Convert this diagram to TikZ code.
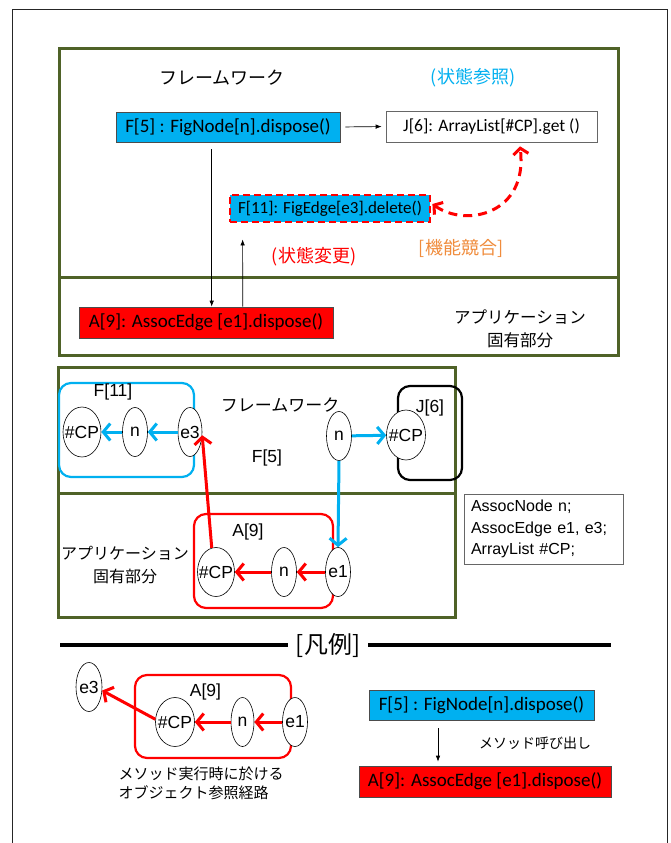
\documentclass[tikz,border=0pt]{standalone}
\usepackage{fontspec}
\setmainfont{Carlito}
\newfontfamily\cjkf{Noto Sans CJK JP}
\newfontfamily\arialf{Liberation Sans}
\usetikzlibrary{arrows.meta,shapes.geometric}
\definecolor{fwgreen}{RGB}{79,98,40}
\definecolor{skyc}{RGB}{0,176,240}
\definecolor{orangec}{RGB}{240,140,60}
\newcommand\myfs[2][]{\fontsize{#2}{#2}\selectfont}
\tikzset{
  greenframe/.style={draw=fwgreen, line width=3pt},
  boxc/.style={draw=black!70, line width=0.6pt, fill=skyc, inner sep=0pt, font=\myfs{19}},
  boxr/.style={draw=black!70, line width=0.6pt, fill=red, inner sep=0pt, font=\myfs{19}},
  boxw/.style={draw=black!60, line width=0.6pt, fill=white, inner sep=0pt, font=\myfs{17.5}},
  jp/.style={font=\cjkf\myfs{#1}, inner sep=0pt},
  lab/.style={font=\arialf\myfs{17.5}, inner sep=0pt},
  ellw/.style={draw=black, line width=0.6pt, fill=white, ellipse, inner xsep=-5pt, inner ysep=0pt,
     minimum width=38pt, minimum height=50pt, font=\arialf\myfs{17.5}},
  ells/.style={draw=black, line width=0.6pt, fill=white, ellipse, inner xsep=-5pt, inner ysep=0pt,
     minimum width=25pt, minimum height=49pt, font=\arialf\myfs{17.5}},
  grp/.style={line width=2.2pt, rounded corners=12pt, inner sep=0pt},
  tarrow/.style={draw=black, line width=0.7pt, -{Latex[length=6pt,width=4.5pt]}},
  carrow/.style={draw=skyc, line width=3pt, -{Straight Barb[length=7pt,width=17pt]}},
  rarrow/.style={draw=red, line width=3pt, -{Straight Barb[length=7pt,width=17pt]}},
}
\begin{document}
\begin{tikzpicture}[x=1pt,y=-1pt]
\useasboundingbox (0,0) rectangle (670,843);
\fill[white] (0,0) rectangle (670,843);
\draw[black!85, line width=0.9pt] (12,843) -- (12,9) -- (667,9) -- (667,843);

% ---------- top section ----------
\draw[greenframe] (59,49) rectangle (618,355);
\draw[greenframe] (59,277) -- (618,277);

\node[jp=18] (fwA) at (222,78) {フレームワーク};
\node[jp=18, text=skyc] (refA) at (473,78) {(状態参照)};
\node[boxc, minimum width=224pt, minimum height=30pt] (f5) at (228,127) {F[5] : FigNode[n].dispose()};
\node[boxw, minimum width=211pt, minimum height=31pt] (j6) at (491.5,126.5) {J[6]: ArrayList[\#CP].get ()};
\node[boxc, draw=red, dashed, dash pattern=on 7pt off 4pt, line width=2.8pt, minimum width=200pt, minimum height=27pt, font=\myfs{17}] (f11) at (330,208.5) {F[11]: FigEdge[e3].delete()};
\node[boxr, minimum width=254pt, minimum height=31pt] (a9) at (206,322.5) {A[9]: AssocEdge [e1].dispose()};
\node[jp=18, text=orangec] (conf) at (461,248) {[機能競合]};
\node[jp=18, text=red] (chg) at (314,257) {(状態変更)};
\node[font=\cjkf\fontsize{16.5}{23}\selectfont, align=center, inner sep=0pt] (appA) at (520,329) {アプリケーション\\固有部分};

\draw[tarrow, shorten <=5pt, shorten >=4pt] (f5.east) -- (j6.west);
\draw[tarrow, shorten <=7pt] ([xshift=96pt]f5.south west) -- ([xshift=133pt]a9.north west);
\draw[tarrow, shorten >=16pt] ([xshift=164pt]a9.north west) -- ([xshift=14pt]f11.south west);
\draw[red, line width=3pt, dash pattern=on 9pt off 6pt,
  {Straight Barb[length=6pt,width=15pt]}-{Straight Barb[length=6pt,width=15pt]}]
  ([xshift=1pt,yshift=4.5pt]f11.east) .. controls (466,228) and (528,214) .. ([xshift=28.5pt,yshift=-4pt]j6.south);

% ---------- middle section ----------
\draw[greenframe] (58,367) rectangle (455,617);
\draw[greenframe] (58,493) -- (455,493);

\node[grp, draw=skyc, minimum width=135pt, minimum height=94pt] (g11) at (126.5,430) {};
\node[lab] (l11) at (113,392) {F[11]};
\node[ellw] (cp11) at (82,432) {\#CP};
\node[ells] (n11) at (135,432) {n};
\node[ells, minimum width=24pt] (e311) at (190,432) {e3};
\draw[carrow] (n11) -- (cp11);
\draw[carrow] (e311) -- (n11);

\node[jp=17] (fwB) at (280,405) {フレームワーク};
\node[lab] (lf5) at (267,458) {F[5]};

\node[grp, draw=black, minimum width=64pt, minimum height=94pt] (gj6) at (430,433) {};
\node[lab] (lj6) at (430,408) {J[6]};
\node[ells] (n5) at (339,436) {n};
\node[ellw, minimum width=39pt] (cpj) at (406,435) {\#CP};
\draw[carrow] (n5) -- (cpj);

\node[grp, draw=red, minimum width=139pt, minimum height=94pt] (ga9) at (263.5,561) {};
\node[lab] (la9t) at (248,532) {A[9]};
\node[ellw, minimum width=37pt, minimum height=49pt] (cpa) at (216,572) {\#CP};
\node[ells] (na) at (284,572) {n};
\node[ells] (e1a) at (338,572) {e1};
\draw[carrow] (n5.south) -- (e1a.north);
\draw[rarrow] (e1a) -- (na);
\draw[rarrow] (na) -- (cpa);
\draw[rarrow] (cpa.100) -- (e311.-15);

\node[font=\cjkf\fontsize{16}{23}\selectfont, align=center, inner sep=0pt] (appB) at (125,565) {アプリケーション\\固有部分};

\node[draw=black!60, line width=0.6pt, minimum width=159pt, minimum height=70pt, text width=145pt,
  inner xsep=7pt, align=left, font=\arialf\fontsize{16}{21.5}\selectfont] (decl) at (543.5,529)
  {AssocNode n;\\AssocEdge e1, e3;\\ArrayList \#CP;};

% ---------- legend ----------
\coordinate (ll) at (60,645);
\coordinate (lr) at (611,645);
\node[font=\cjkf\myfs{24}, inner xsep=8pt, inner ysep=0pt] (leg) at (328,645) {[凡例]};
\draw[line width=4pt] (ll) -- (leg.west);
\draw[line width=4pt] (leg.east) -- (lr);

\node[grp, draw=red, minimum width=156pt, minimum height=83pt] (gl) at (213,716.5) {};
\node[lab] (lla9) at (205.5,692) {A[9]};
\node[ells, minimum width=26pt] (e3l) at (89,687) {e3};
\node[ellw, minimum width=39pt, minimum height=49pt] (cpl) at (175,722) {\#CP};
\node[ells, minimum width=23pt] (nl) at (242.5,722) {n};
\node[ells] (e1l) at (295,722) {e1};
\draw[rarrow] (e1l) -- (nl);
\draw[rarrow] (nl) -- (cpl);
\draw[rarrow] (cpl.172) -- (e3l.-15);
\node[anchor=west, align=left, inner sep=0pt, font=\cjkf\fontsize{15}{19}\selectfont] (ltxt) at (118.5,783.5)
  {メソッド実行時に於ける\\オブジェクト参照経路};

\node[boxc, minimum width=225pt, minimum height=30pt] (lf5b) at (481.5,705) {F[5] : FigNode[n].dispose()};
\node[boxr, minimum width=252pt, minimum height=31pt] (la9b) at (485,781.5) {A[9]: AssocEdge [e1].dispose()};
\draw[tarrow, shorten <=8pt, shorten >=4pt] ([xshift=-43.5pt]lf5b.south) -- ([xshift=-47pt]la9b.north);
\node[jp=14] (call) at (535,743) {メソッド呼び出し};
\end{tikzpicture}
\end{document}
